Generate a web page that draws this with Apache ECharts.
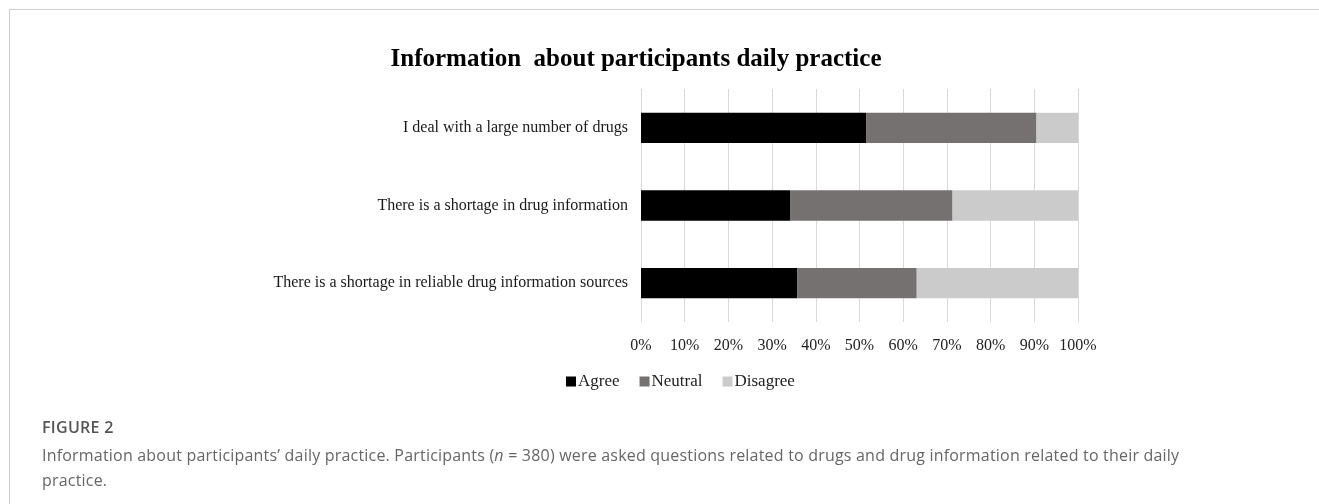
<!DOCTYPE html>
<html>
<head>
<meta charset="utf-8">
<script src="https://cdn.jsdelivr.net/npm/echarts@6/dist/echarts.min.js"></script>
<style>
  html, body { margin: 0; padding: 0; background: #fff; }
  #wrap { position: relative; width: 1319px; height: 504px; overflow: hidden; }
  #frame { position: absolute; left: 9px; top: 9px; width: 1320px; height: 520px;
           border-top: 1px solid #cdcdcd; border-left: 1px solid #cdcdcd; box-sizing: border-box; }
  #chart { position: absolute; left: 0; top: 0; width: 1319px; height: 504px; }
  #fig { position: absolute; left: 42px; top: 416px; font-family: "Open Sans", sans-serif;
         font-size: 16px; font-weight: 600; color: #555; letter-spacing: 0.3px; }
  #cap { position: absolute; left: 42px; top: 443px; font-family: "Open Sans", sans-serif;
         font-size: 16px; color: #666; line-height: 25px; letter-spacing: 0.2px; white-space: nowrap; }
</style>
</head>
<body>
<div id="wrap">
  <div id="chart"></div>
  <div id="frame"></div>
  <div id="fig">FIGURE 2</div>
  <div id="cap">Information about participants’ daily practice. Participants (<i>n</i> = 380) were asked questions related to drugs and drug information related to their daily<br>practice.</div>
</div>
<script>
const chartTitle = "Information  about participants daily practice";
const categories = [
  "I deal with a large number of drugs",
  "There is a shortage in drug information",
  "There is a shortage in reliable drug information sources"
];
const agree = [51.6, 34.1, 35.8];
const neutral = [38.9, 37.2, 27.3];
const disagree = [9.5, 28.7, 36.9];
const seriesNames = ["Agree", "Neutral", "Disagree"];
const seriesColors = ["#000000", "#767171", "#cbcbcb"];

const chart = echarts.init(document.getElementById('chart'), null, { renderer: 'canvas' });
const serif = '"Liberation Serif", "Times New Roman", serif';
const values = [agree, neutral, disagree];

chart.setOption({
  animation: false,
  title: {
    text: chartTitle,
    left: 631, top: 42, textAlign: 'center',
    textStyle: { fontFamily: serif, fontSize: 25, fontWeight: 'bold', color: '#000' }
  },
  legend: {
    data: seriesNames,
    left: 561, top: 368,
    orient: 'horizontal',
    itemWidth: 10, itemHeight: 10, itemGap: 20,
    icon: 'rect',
    textStyle: { fontFamily: serif, fontSize: 17, color: '#222', padding: [0, 0, 0, -3] }
  },
  grid: { left: 641, right: 241, top: 89, bottom: 182, containLabel: false },
  xAxis: {
    type: 'value', min: 0, max: 100, interval: 10,
    axisLine: { show: false }, axisTick: { show: false },
    splitLine: { show: true, lineStyle: { color: '#d9d9d9', width: 1 } },
    axisLabel: { formatter: '{value}%', fontFamily: serif, fontSize: 16, color: '#222', margin: 16 }
  },
  yAxis: {
    type: 'category', data: categories, inverse: true,
    axisLine: { show: false }, axisTick: { show: false },
    axisLabel: { fontFamily: serif, fontSize: 16, color: '#1a1a1a', margin: 13 }
  },
  series: seriesNames.map((name, i) => ({
    name: name, type: 'bar', stack: 'total', barWidth: '39%',
    itemStyle: { color: seriesColors[i] },
    data: values[i]
  }))
});
</script>
</body>
</html>
